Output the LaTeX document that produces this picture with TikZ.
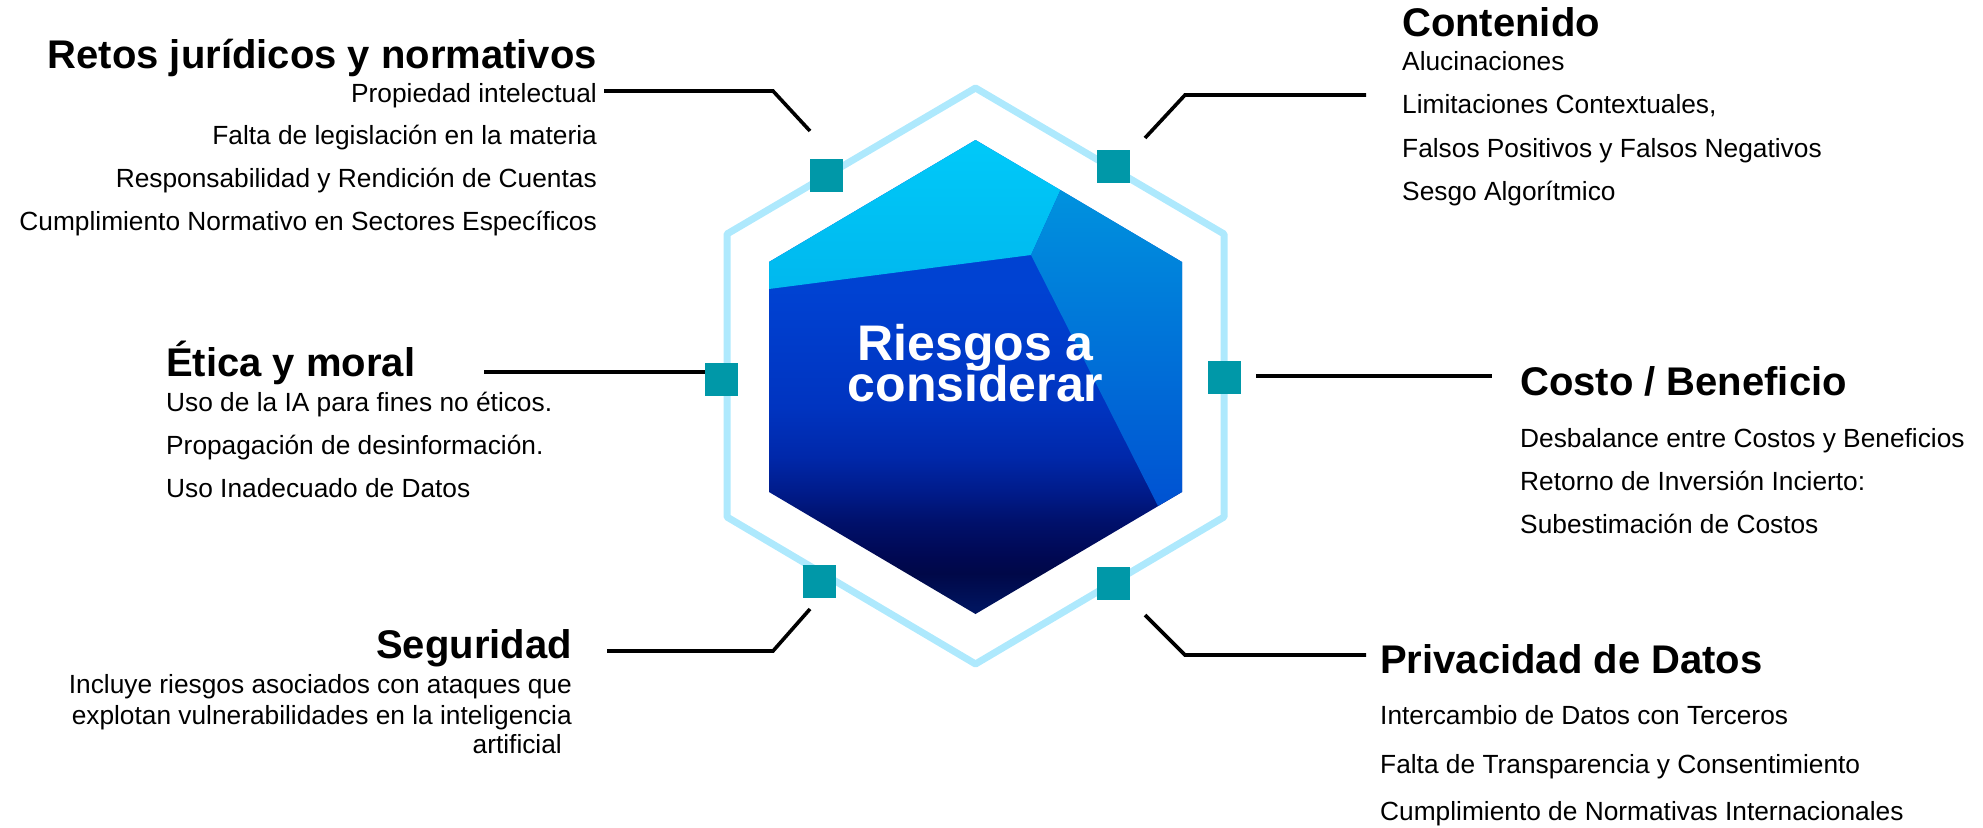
\documentclass[tikz,border=0pt]{standalone}
\usepackage{fontspec}
\setmainfont{Liberation Sans}
\definecolor{hexline}{HTML}{AEE9FD}
\definecolor{teal1}{HTML}{0098A8}
\definecolor{cyanA}{HTML}{00C9F9}
\definecolor{cyanB}{HTML}{00B8EE}
\definecolor{midA}{HTML}{0092DE}
\definecolor{midB}{HTML}{0052D2}
\definecolor{gA}{HTML}{0042D2}
\definecolor{gB}{HTML}{0034C0}
\definecolor{gC}{HTML}{0028AA}
\definecolor{gD}{HTML}{001C8C}
\definecolor{gE}{HTML}{00106A}
\definecolor{gF}{HTML}{000852}
\definecolor{gG}{HTML}{000848}
\definecolor{gH}{HTML}{00145E}
\pgfdeclareverticalshading{deepsh}{100bp}{color(0bp)=(gH); color(25.7bp)=(gH); color(29.3bp)=(gG); color(31bp)=(gF); color(34.6bp)=(gE); color(38.1bp)=(gD); color(41.6bp)=(gC); color(46.8bp)=(gB); color(59.2bp)=(gA); color(100bp)=(gA)}
\begin{document}
\begin{tikzpicture}[x=1pt,y=-1pt,
  ttl/.style={font=\fontsize{40}{48}\selectfont\bfseries, inner sep=0pt},
  itm/.style={font=\fontsize{26.3}{30}\selectfont, inner sep=0pt},
  ctr/.style={font=\fontsize{50}{41}\selectfont\bfseries, text=white, inner sep=0pt, anchor=base},
  sq/.style={fill=teal1, minimum width=33pt, minimum height=33pt, inner sep=0pt},
  conn/.style={line width=3.6pt, black},
]
\useasboundingbox (0,0) rectangle (1983,827);
% hexagon coordinates
\coordinate (oT) at (975.5,88);
\coordinate (oUR) at (1224,234);
\coordinate (oLR) at (1224,517);
\coordinate (oB) at (975.5,664);
\coordinate (oLL) at (727,517);
\coordinate (oUL) at (727,234);
\coordinate (iT) at (975.5,140);
\coordinate (iUR) at (1182,262);
\coordinate (iLR) at (1182,492);
\coordinate (iB) at (975.5,614);
\coordinate (iLL) at (769,492);
\coordinate (iUL) at (769,262);
\coordinate (p1) at (1060.5,190);
\coordinate (p2) at (1031,255);
\coordinate (p3) at (769,289);
\coordinate (p4) at (1158,506);
% inner hexagon
\shade[shading=deepsh] (iT)--(iUR)--(iLR)--(iB)--(iLL)--(iUL)--cycle;
\shade[top color=cyanA, bottom color=cyanB] (iT)--(p1)--(p2)--(p3)--(iUL)--cycle;
\shade[top color=midA, bottom color=midB] (p1)--(iUR)--(iLR)--(p4)--(p2)--cycle;
% outer hexagon
\draw[hexline, line width=7pt, line join=round] (oT)--(oUR)--(oLR)--(oB)--(oLL)--(oUL)--cycle;
% connectors
\coordinate (a1) at (604,91);
\coordinate (a2) at (773,91);
\coordinate (a3) at (810,131);
\coordinate (b1) at (1145,138);
\coordinate (b2) at (1185,95);
\coordinate (b3) at (1366,95);
\coordinate (c1) at (484,372);
\coordinate (c2) at (705,372);
\coordinate (d1) at (1256,376);
\coordinate (d2) at (1492,376);
\coordinate (e1) at (810,609);
\coordinate (e2) at (773,651);
\coordinate (e3) at (607,651);
\coordinate (f1) at (1145,615);
\coordinate (f2) at (1185,655);
\coordinate (f3) at (1366,655);
\draw[conn] (a1) -- (a2) -- (a3);
\draw[conn] (b1) -- (b2) -- (b3);
\draw[conn] (c1) -- (c2);
\draw[conn] (d1) -- (d2);
\draw[conn] (e1) -- (e2) -- (e3);
\draw[conn] (f1) -- (f2) -- (f3);
% squares
\node[sq] (sUL) at (826,175) {};
\node[sq] (sUR) at (1113.5,166) {};
\node[sq] (sL) at (721,379) {};
\node[sq] (sR) at (1224,377) {};
\node[sq] (sLL) at (819,581) {};
\node[sq] (sLR) at (1113.5,583) {};
% center text
\node[ctr] (c1t) at (975.5,360) {Riesgos a};
\node[ctr] (c2t) at (975.5,401) {considerar};
% top-left
\node[ttl, anchor=base east] (tl0) at (597,68) {Retos jurídicos y normativos};
\node[itm, anchor=base east] (tl1) at (597,102) {Propiedad intelectual};
\node[itm, anchor=base east] (tl2) at (597,144) {Falta de legislación en la materia};
\node[itm, anchor=base east] (tl3) at (597,187) {Responsabilidad y Rendición de Cuentas};
\node[itm, anchor=base east] (tl4) at (597,230) {Cumplimiento Normativo en Sectores Específicos};
% top-right
\node[ttl, anchor=base west] (tr0) at (1402,36) {Contenido};
\node[itm, anchor=base west] (tr1) at (1402,70) {Alucinaciones};
\node[itm, anchor=base west] (tr2) at (1402,113) {Limitaciones Contextuales,};
\node[itm, anchor=base west] (tr3) at (1402,157) {Falsos Positivos y Falsos Negativos};
\node[itm, anchor=base west] (tr4) at (1402,200) {Sesgo Algorítmico};
% right-middle
\node[ttl, anchor=base west] (rm0) at (1520,395) {Costo / Beneficio};
\node[itm, anchor=base west] (rm1) at (1520,447) {Desbalance entre Costos y Beneficios};
\node[itm, anchor=base west] (rm2) at (1520,490) {Retorno de Inversión Incierto:};
\node[itm, anchor=base west] (rm3) at (1520,533) {Subestimación de Costos};
% right-bottom
\node[ttl, anchor=base west] (rb0) at (1380,673) {Privacidad de Datos};
\node[itm, anchor=base west] (rb1) at (1380,724) {Intercambio de Datos con Terceros};
\node[itm, anchor=base west] (rb2) at (1380,773) {Falta de Transparencia y Consentimiento};
\node[itm, anchor=base west] (rb3) at (1380,820) {Cumplimiento de Normativas Internacionales};
% left-middle
\node[ttl, anchor=base west] (lm0) at (166,376) {Ética y moral};
\node[itm, anchor=base west] (lm1) at (166,411) {Uso de la IA para fines no éticos.};
\node[itm, anchor=base west] (lm2) at (166,454) {Propagación de desinformación.};
\node[itm, anchor=base west] (lm3) at (166,497) {Uso Inadecuado de Datos};
% left-bottom
\node[ttl, anchor=base east] (lb0) at (572,658) {Seguridad};
\node[itm, anchor=base east] (lb1) at (572,693) {Incluye riesgos asociados con ataques que};
\node[itm, anchor=base east] (lb2) at (572,724) {explotan vulnerabilidades en la inteligencia};
\node[itm, anchor=base east] (lb3) at (572,753) {artificial\kern10pt};
\end{tikzpicture}
\end{document}
